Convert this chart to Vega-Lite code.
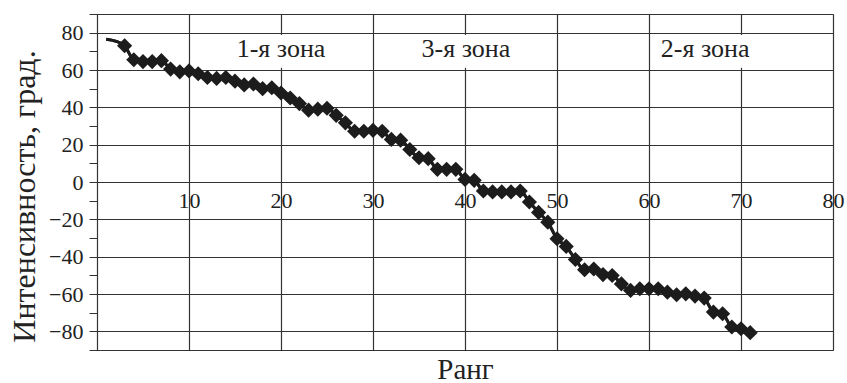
{
  "$schema": "https://vega.github.io/schema/vega-lite/v6.json",
  "width": 736,
  "height": 336,
  "autosize": {"type": "none"},
  "padding": {"left": 97, "top": 14, "right": 14, "bottom": 33},
  "background": "white",
  "config": {
    "view": {"stroke": "#333", "strokeWidth": 1},
    "font": "Liberation Serif"
  },
  "resolve": {"axis": {"y": "independent"}},
  "datasets": {
    "series": [
      {"rank": 1, "value": 76.5}, {"rank": 2, "value": 75.5}, {"rank": 3, "value": 73},
      {"rank": 4, "value": 65.5}, {"rank": 5, "value": 64.5}, {"rank": 6, "value": 64.5},
      {"rank": 7, "value": 65}, {"rank": 8, "value": 60.5}, {"rank": 9, "value": 59},
      {"rank": 10, "value": 59.5}, {"rank": 11, "value": 58}, {"rank": 12, "value": 56},
      {"rank": 13, "value": 55.5}, {"rank": 14, "value": 56}, {"rank": 15, "value": 54},
      {"rank": 16, "value": 52}, {"rank": 17, "value": 52.5}, {"rank": 18, "value": 50},
      {"rank": 19, "value": 50.5}, {"rank": 20, "value": 47.7}, {"rank": 21, "value": 45},
      {"rank": 22, "value": 42}, {"rank": 23, "value": 38.5}, {"rank": 24, "value": 39},
      {"rank": 25, "value": 39.5}, {"rank": 26, "value": 35.7}, {"rank": 27, "value": 31.7},
      {"rank": 28, "value": 27.2}, {"rank": 29, "value": 27.2}, {"rank": 30, "value": 27.7},
      {"rank": 31, "value": 27.2}, {"rank": 32, "value": 22.8}, {"rank": 33, "value": 22.4},
      {"rank": 34, "value": 17.4}, {"rank": 35, "value": 13}, {"rank": 36, "value": 12.5},
      {"rank": 37, "value": 6.8}, {"rank": 38, "value": 6.8}, {"rank": 39, "value": 6.8},
      {"rank": 40, "value": 1.4}, {"rank": 41, "value": 0.9}, {"rank": 42, "value": -4.8},
      {"rank": 43, "value": -5.3}, {"rank": 44, "value": -5.3}, {"rank": 45, "value": -5.3},
      {"rank": 46, "value": -4.8}, {"rank": 47, "value": -10.7}, {"rank": 48, "value": -16.3},
      {"rank": 49, "value": -21.5}, {"rank": 50, "value": -30.4}, {"rank": 51, "value": -34.5},
      {"rank": 52, "value": -41.5}, {"rank": 53, "value": -47}, {"rank": 54, "value": -46.6},
      {"rank": 55, "value": -49.6}, {"rank": 56, "value": -50.1}, {"rank": 57, "value": -54.6},
      {"rank": 58, "value": -58.1}, {"rank": 59, "value": -57.2}, {"rank": 60, "value": -57.2},
      {"rank": 61, "value": -57.2}, {"rank": 62, "value": -59}, {"rank": 63, "value": -60.4},
      {"rank": 64, "value": -59.9}, {"rank": 65, "value": -61.1}, {"rank": 66, "value": -62.2},
      {"rank": 67, "value": -69.7}, {"rank": 68, "value": -70.6}, {"rank": 69, "value": -77.7},
      {"rank": 70, "value": -78.6}, {"rank": 71, "value": -80.7}
    ],
    "zones": [
      {"zone": "1-я зона", "center": 20, "start": 14, "end": 26},
      {"zone": "3-я зона", "center": 40.1, "start": 34, "end": 46},
      {"zone": "2-я зона", "center": 66.1, "start": 60.5, "end": 72}
    ]
  },
  "layer": [
    {
      "data": {"name": "series"},
      "mark": {"type": "line", "color": "#1c1c1c", "strokeWidth": 3, "interpolate": "monotone"},
      "encoding": {
        "x": {
          "field": "rank", "type": "quantitative",
          "scale": {"domain": [0, 80], "nice": false, "zero": false},
          "axis": {
            "values": [0, 10, 20, 30, 40, 50, 60, 70, 80],
            "labelExpr": "datum.value === 0 ? '' : datum.label",
            "offset": -168,
            "grid": true, "gridColor": "#333", "gridWidth": 1.2,
            "domain": false, "ticks": false,
            "labelPadding": 8, "labelFontSize": 22, "labelColor": "#222",
            "labelFont": "Liberation Serif",
            "labelFlush": false, "labelOverlap": false,
            "title": "Ранг", "titleFontSize": 29, "titleFontWeight": "normal",
            "titleFont": "Liberation Serif", "titleColor": "#222",
            "titleBaseline": "alphabetic", "titleY": 196
          }
        },
        "y": {
          "field": "value", "type": "quantitative",
          "scale": {"domain": [-90, 90], "nice": false, "zero": false},
          "axis": {
            "orient": "left",
            "values": [-80, -60, -40, -20, 0, 20, 40, 60, 80],
            "grid": true, "gridColor": "#333", "gridWidth": 1.2,
            "domain": true, "domainColor": "#333",
            "tickSize": 8, "tickColor": "#333",
            "labelPadding": 6, "labelFontSize": 22, "labelColor": "#222",
            "labelFont": "Liberation Serif", "labelOverlap": false, "labelFlush": false,
            "title": "Интенсивность, град.", "titleFontSize": 32, "titleFontWeight": "normal",
            "titleFont": "Liberation Serif", "titleColor": "#222",
            "titleAngle": -90, "titleAlign": "center", "titleBaseline": "middle",
            "titleX": -73, "titleY": 182
          }
        }
      }
    },
    {
      "data": {"name": "zones"},
      "mark": {"type": "rect", "color": "white"},
      "encoding": {
        "x": {"field": "start", "type": "quantitative"},
        "x2": {"field": "end"},
        "y": {"datum": 61.2, "axis": null},
        "y2": {"datum": 78.8}
      }
    },
    {
      "data": {"name": "series"},
      "mark": {"type": "line", "color": "#1c1c1c", "strokeWidth": 3, "interpolate": "monotone"},
      "encoding": {
        "x": {"field": "rank", "type": "quantitative"},
        "y": {"field": "value", "type": "quantitative", "axis": null}
      }
    },
    {
      "data": {"name": "series"},
      "transform": [{"filter": "datum.rank >= 3"}],
      "mark": {"type": "point", "shape": "diamond", "filled": true, "color": "#1c1c1c", "size": 230, "opacity": 1},
      "encoding": {
        "x": {"field": "rank", "type": "quantitative"},
        "y": {
          "field": "value", "type": "quantitative",
          "axis": {
            "orient": "left",
            "values": [-90, -70, -50, -30, -10, 10, 30, 50, 70, 90],
            "labels": false, "grid": false, "domain": false,
            "tickSize": 8, "tickColor": "#333", "title": null
          }
        }
      }
    },
    {
      "data": {"name": "zones"},
      "mark": {"type": "text", "font": "Liberation Serif", "fontSize": 26, "color": "#222", "baseline": "alphabetic", "align": "center"},
      "encoding": {
        "x": {"field": "center", "type": "quantitative"},
        "y": {"datum": 67, "axis": null},
        "text": {"field": "zone"}
      }
    }
  ]
}
